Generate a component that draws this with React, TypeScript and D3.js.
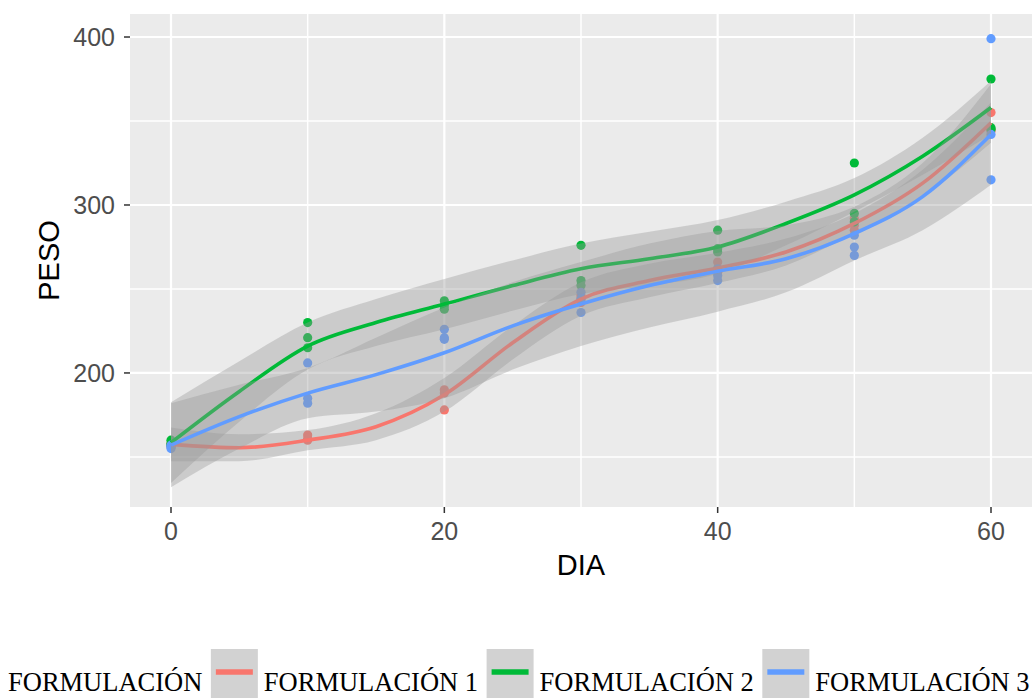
import React, { useEffect, useRef } from 'react'
import * as d3 from 'd3'

// observed days and weights (3 replicates per day)
const DIAS = [0, 10, 20, 30, 40, 50, 60]
const F1_PESO = [[157, 156, 158], [163, 161, 160], [190, 188, 178], [246, 244, 242], [266, 262, 260], [292, 288, 285], [355, 345, 344]]
const F2_PESO = [[160, 158, 157], [230, 221, 215], [243, 240, 238], [276, 255, 252], [285, 274, 272], [325, 295, 290], [375, 346, 345]]
const F3_PESO = [[156, 157, 155], [206, 185, 182], [226, 221, 220], [248, 244, 236], [262, 258, 255], [282, 275, 270], [399, 342, 315]]

// smoothed curve (loess), with ribbon half widths
const SMOOTH_DIAS = [0, 5, 10, 15, 20, 25, 30, 35, 40, 45, 50, 55, 60]
const F1_FIT = [157.5, 155.5, 160, 168, 187, 218, 244, 255, 262.5, 272, 289, 313, 349]
const F2_FIT = [158.5, 189, 216, 230, 241, 252, 262, 268, 275, 289, 306, 329, 358]
const F3_FIT = [157, 174, 188, 199, 212, 228, 241, 252, 260.5, 268, 283, 305, 342]
const F1_SE = [10, 8, 6, 8, 10, 10, 10, 10, 9, 8, 6, 8, 12]
const F2_SE = [24, 18, 14, 14, 15, 15, 15, 16, 16, 13, 10, 11, 16]
const F3_SE = [25, 19, 15, 22, 27, 26, 25, 25, 24, 20, 16, 20, 30]

const GROUPS = ['FORMULACIÓN 1', 'FORMULACIÓN 2', 'FORMULACIÓN 3']
const COLORS = ['#F8766D', '#00BA38', '#619CFF']
const PESOS = [F1_PESO, F2_PESO, F3_PESO]
const FITS = [F1_FIT, F2_FIT, F3_FIT]
const SES = [F1_SE, F2_SE, F3_SE]

const X_TICKS = [0, 20, 40, 60]
const X_MINOR = [10, 30, 50]
const Y_TICKS = [200, 300, 400]
const Y_MINOR = [150, 250, 350]

export default function App() {
  const svgRef = useRef<SVGSVGElement>(null)

  useEffect(() => {
    const width = 1032
    const height = 698
    const panel = { left: 130, right: 1032, top: 14, bottom: 507 }
    const sans = '"Liberation Sans", Arial, sans-serif'
    const serif = '"Liberation Serif", "Times New Roman", serif'

    const svg = d3.select(svgRef.current)
    svg.selectAll('*').remove()
    svg.attr('width', width).attr('height', height)

    const x = d3.scaleLinear().domain([-3, 63]).range([panel.left, panel.right])
    const y = d3.scaleLinear().domain([120.2, 413.7]).range([panel.bottom, panel.top])

    svg.append('rect')
      .attr('x', panel.left).attr('y', panel.top)
      .attr('width', panel.right - panel.left).attr('height', panel.bottom - panel.top)
      .attr('fill', '#EBEBEB')

    const grid = svg.append('g').attr('stroke', '#FFFFFF')
    Y_MINOR.forEach((v) => grid.append('line').attr('x1', panel.left).attr('x2', panel.right)
      .attr('y1', y(v)).attr('y2', y(v)).attr('stroke-width', 1.5))
    X_MINOR.forEach((v) => grid.append('line').attr('y1', panel.top).attr('y2', panel.bottom)
      .attr('x1', x(v)).attr('x2', x(v)).attr('stroke-width', 1.5))
    Y_TICKS.forEach((v) => grid.append('line').attr('x1', panel.left).attr('x2', panel.right)
      .attr('y1', y(v)).attr('y2', y(v)).attr('stroke-width', 2.2))
    X_TICKS.forEach((v) => grid.append('line').attr('y1', panel.top).attr('y2', panel.bottom)
      .attr('x1', x(v)).attr('x2', x(v)).attr('stroke-width', 2.2))

    // points first, smooths drawn over them
    const pts = svg.append('g')
    PESOS.forEach((rows, gi) => {
      rows.forEach((vals, di) => {
        vals.forEach((v) => {
          pts.append('circle')
            .attr('cx', x(DIAS[di])).attr('cy', y(v)).attr('r', 4.6)
            .attr('fill', COLORS[gi])
        })
      })
    })

    const area = d3.area<number>()
      .x((_, i) => x(SMOOTH_DIAS[i]))
      .curve(d3.curveMonotoneX)
    const line = d3.line<number>()
      .x((_, i) => x(SMOOTH_DIAS[i]))
      .y((d) => y(d))
      .curve(d3.curveMonotoneX)

    FITS.forEach((fit, gi) => {
      const se = SES[gi]
      svg.append('path')
        .attr('d', area.y0((d, i) => y(d - se[i])).y1((d, i) => y(d + se[i]))(fit))
        .attr('fill', '#999999')
        .attr('fill-opacity', 0.38)
      svg.append('path')
        .attr('d', line(fit))
        .attr('fill', 'none')
        .attr('stroke', COLORS[gi])
        .attr('stroke-width', 3.6)
    })

    // axes
    const axes = svg.append('g').attr('font-family', sans)
    Y_TICKS.forEach((v) => {
      axes.append('line').attr('x1', panel.left - 6).attr('x2', panel.left)
        .attr('y1', y(v)).attr('y2', y(v)).attr('stroke', '#333333').attr('stroke-width', 1.5)
      axes.append('text').attr('x', panel.left - 15).attr('y', y(v)).attr('dy', '0.36em')
        .attr('text-anchor', 'end').attr('font-size', 25).attr('fill', '#4D4D4D').text(v)
    })
    X_TICKS.forEach((v) => {
      axes.append('line').attr('y1', panel.bottom).attr('y2', panel.bottom + 6)
        .attr('x1', x(v)).attr('x2', x(v)).attr('stroke', '#333333').attr('stroke-width', 1.5)
      axes.append('text').attr('x', x(v)).attr('y', 540)
        .attr('text-anchor', 'middle').attr('font-size', 25).attr('fill', '#4D4D4D').text(v)
    })
    axes.append('text').attr('x', (panel.left + panel.right) / 2).attr('y', 575)
      .attr('text-anchor', 'middle').attr('font-size', 29).attr('fill', '#000').text('DIA')
    axes.append('text')
      .attr('transform', `translate(59,${(panel.top + panel.bottom) / 2}) rotate(-90)`)
      .attr('text-anchor', 'middle').attr('font-size', 29).attr('fill', '#000').text('PESO')

    // legend — one row along the bottom
    const legend = svg.append('g').attr('font-family', serif).attr('font-size', 26.5)
    const baseline = 691
    let cursor = 8
    const title = legend.append('text').attr('x', cursor).attr('y', baseline).attr('fill', '#000').text('FORMULACIÓN')
    cursor += (title.node() as SVGTextElement).getComputedTextLength() + 8.5
    GROUPS.forEach((g, gi) => {
      legend.append('rect').attr('x', cursor).attr('y', 649).attr('width', 47).attr('height', 52)
        .attr('fill', '#D2D2D2')
      legend.append('line').attr('x1', cursor + 5).attr('x2', cursor + 42)
        .attr('y1', 672).attr('y2', 672).attr('stroke', COLORS[gi]).attr('stroke-width', 5.5)
      cursor += 47 + 6
      const t = legend.append('text').attr('x', cursor).attr('y', baseline).attr('fill', '#000').text(g)
      cursor += (t.node() as SVGTextElement).getComputedTextLength() + 8.5
    })
  }, [])

  return (
    <svg
      ref={svgRef}
      style={{ position: 'absolute', left: 0, top: 0, display: 'block' }}
      role="img"
      aria-label="PESO por DIA"
    />
  )
}
